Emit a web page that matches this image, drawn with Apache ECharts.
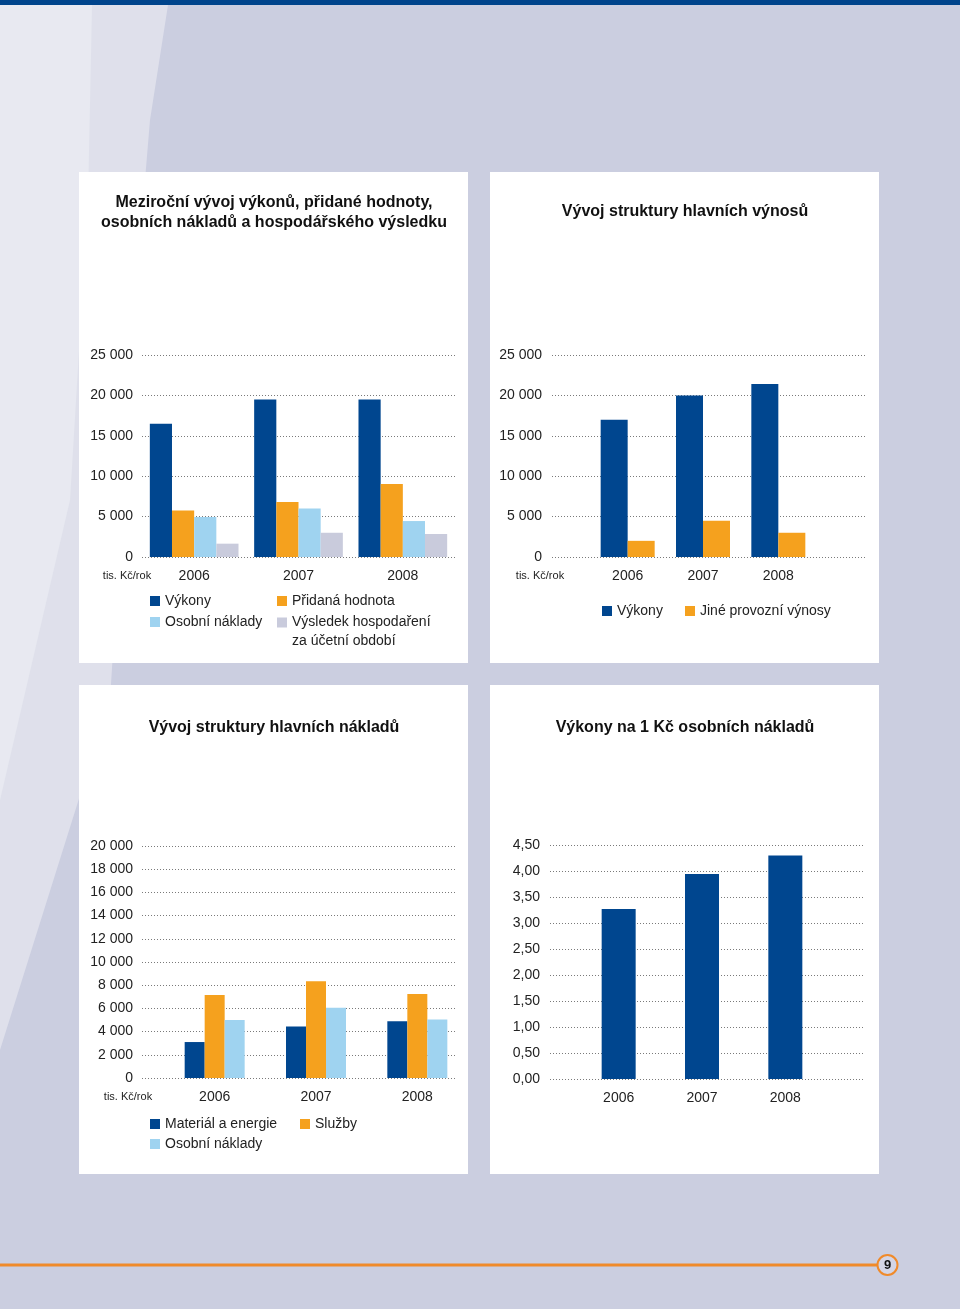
<!DOCTYPE html>
<html>
<head>
<meta charset="utf-8">
<script src="https://cdn.jsdelivr.net/npm/echarts@6/dist/echarts.min.js"></script>
<style>
html,body{margin:0;padding:0;background:#cbcee0;}
#c{width:960px;height:1309px;}
</style>
</head>
<body>
<div id="c"></div>
<script>
// ---- data ----
var years = ['2006', '2007', '2008'];
// Chart 1: Meziroční vývoj ...
var vykony1 = [16500, 19500, 19500];
var pridanaHodnota = [5750, 6800, 9050];
var osobniNaklady1 = [4950, 6000, 4450];
var vysledekHosp = [1650, 3000, 2850];
var ticks1 = [0, 25000, 5000];
// Chart 2: Vývoj struktury hlavních výnosů
var vykony2 = [17000, 20000, 21400];
var jineVynosy = [2000, 4500, 3000];
var ticks2 = [0, 25000, 5000];
// Chart 3: Vývoj struktury hlavních nákladů
var materialEnergie = [3100, 4450, 4900];
var sluzby = [7150, 8350, 7250];
var osobniNaklady3 = [5000, 6050, 5050];
var ticks3 = [0, 20000, 2000];
// Chart 4: Výkony na 1 Kč osobních nákladů
var vykonyNa1Kc = [3.27, 3.94, 4.30];
var ticks4 = [0, 4.5, 0.5];

var C_BLUE = '#00468f', C_ORANGE = '#f5a11e', C_LBLUE = '#9fd3f0', C_GREY = '#c9cbdc';
var FONT = '"Liberation Sans", Arial, Helvetica, sans-serif';
var TXT = '#222222';

function thou(v){ return String(v).replace(/\B(?=(\d{3})+(?!\d))/g, ' '); }
function dec(v){ return v.toFixed(2).replace('.', ','); }

var chart = echarts.init(document.getElementById('c'), null, {renderer:'canvas', width:960, height:1309});

var splitStyle = {show:true, lineStyle:{type:[1,2], color:'#7a7a7a', width:1}};

function gridYAxis(gi, t, fmt, margin){
  return {type:'value', gridIndex:gi, min:t[0], max:t[1], interval:t[2],
    axisLine:{show:false}, axisTick:{show:false},
    axisLabel:{show:true, formatter:fmt, margin:margin, fontSize:14, color:TXT, fontFamily:FONT},
    splitLine:splitStyle};
}
function hiddenYAxis(gi, t){
  return {type:'value', gridIndex:gi, min:t[0], max:t[1], interval:t[2], show:false, splitLine:{show:false}};
}
function catAxis(gi, showLabels){
  return {type:'category', gridIndex:gi, data:years, show:showLabels,
    axisLine:{show:false}, axisTick:{show:false},
    axisLabel:{margin:12, fontSize:14, color:TXT, fontFamily:FONT}};
}

var grids = [
  {left:142, top:355, width:313, height:202},   // 0 chart1
  {left:552, top:355, width:313, height:202},   // 1 chart2 gridlines
  {left:590, top:355, width:226, height:202},   // 2 chart2 bars
  {left:142, top:846, width:313, height:232},   // 3 chart3 gridlines
  {left:164, top:846, width:304, height:232},   // 4 chart3 bars
  {left:550, top:845, width:314, height:234},   // 5 chart4 gridlines
  {left:577, top:845, width:250, height:234}    // 6 chart4 bars
];

var xAxes = [catAxis(0,true), catAxis(1,false), catAxis(2,true), catAxis(3,false), catAxis(4,true), catAxis(5,false), catAxis(6,true)];
var yAxes = [gridYAxis(0,ticks1,thou,9), gridYAxis(1,ticks2,thou,10), hiddenYAxis(2,ticks2),
             gridYAxis(3,ticks3,thou,9), hiddenYAxis(4,ticks3), gridYAxis(5,ticks4,dec,10), hiddenYAxis(6,ticks4)];

function bar(name, data, color, ai, extra){
  var s = {type:'bar', name:name, data:data, xAxisIndex:ai, yAxisIndex:ai, itemStyle:{color:color}, barGap:0, silent:true};
  for (var k in extra) s[k] = extra[k];
  return s;
}

var series = [
  bar('Výkony', vykony1, C_BLUE, 0, {barCategoryGap:'15%'}),
  bar('Přidaná hodnota', pridanaHodnota, C_ORANGE, 0, {barCategoryGap:'15%'}),
  bar('Osobní náklady', osobniNaklady1, C_LBLUE, 0, {barCategoryGap:'15%'}),
  bar('Výsledek hospodaření za účetní období', vysledekHosp, C_GREY, 0, {barCategoryGap:'15%'}),
  bar('Výkony', vykony2, C_BLUE, 2, {barWidth:27}),
  bar('Jiné provozní výnosy', jineVynosy, C_ORANGE, 2, {barWidth:27}),
  bar('Materiál a energie', materialEnergie, C_BLUE, 4, {barWidth:20}),
  bar('Služby', sluzby, C_ORANGE, 4, {barWidth:20}),
  bar('Osobní náklady', osobniNaklady3, C_LBLUE, 4, {barWidth:20}),
  bar('Výkony na 1 Kč osobních nákladů', vykonyNa1Kc, C_BLUE, 6, {barWidth:34})
];

function leg(name, left, yc, extra){
  var l = {data:[name], left:left, top:yc-7, orient:'horizontal', icon:'rect', itemWidth:10, itemHeight:10,
    padding:0, selectedMode:false, textStyle:{fontSize:14, color:TXT, fontFamily:FONT}};
  for (var k in extra) l[k] = extra[k];
  return l;
}
var legends = [
  leg('Výkony', 150, 601),
  leg('Přidaná hodnota', 277, 601),
  leg('Osobní náklady', 150, 622),
  {data:['Výsledek hospodaření za účetní období'], left:277, top:594, icon:'rect', itemWidth:10, itemHeight:10,
    padding:0, selectedMode:false,
    formatter:function(n){ return ' \n' + n.replace(' za ', '\nza '); },
    textStyle:{fontSize:14, color:TXT, fontFamily:FONT, lineHeight:19}},
  leg('Výkony', 602, 611),
  leg('Jiné provozní výnosy', 685, 611),
  leg('Materiál a energie', 150, 1124),
  leg('Služby', 300, 1124),
  leg('Osobní náklady', 150, 1144)
];

function txt(x, y, s, size, weight, color, align){
  return {type:'text', x:x, y:y, silent:true, z:10,
    style:{text:s, fontSize:size, fontWeight:weight||'normal', fill:color||TXT, fontFamily:FONT,
      textAlign:align||'center', textVerticalAlign:'middle', lineHeight:20}};
}

var graphics = [
  // background swooshes
  {type:'polygon', z:-10, silent:true, shape:{points:[[0,5],[168,5],[150,120],[135,300],[110,700],[0,1050]]}, style:{fill:'#dfe0eb'}},
  {type:'polygon', z:-9, silent:true, shape:{points:[[0,5],[92,5],[88,200],[70,500],[0,800]]}, style:{fill:'#e8e9f1'}},
  // top bar
  {type:'rect', z:-5, silent:true, shape:{x:0, y:0, width:960, height:5}, style:{fill:'#00448c'}},
  // panels
  {type:'rect', z:-5, silent:true, shape:{x:79, y:172, width:389, height:491}, style:{fill:'#ffffff'}},
  {type:'rect', z:-5, silent:true, shape:{x:490, y:172, width:389, height:491}, style:{fill:'#ffffff'}},
  {type:'rect', z:-5, silent:true, shape:{x:79, y:685, width:389, height:489}, style:{fill:'#ffffff'}},
  {type:'rect', z:-5, silent:true, shape:{x:490, y:685, width:389, height:489}, style:{fill:'#ffffff'}},
  // titles
  txt(274, 213, 'Meziroční vývoj výkonů, přidané hodnoty,\nosobních nákladů a hospodářského výsledku', 16, 'bold', '#111'),
  txt(685, 212, 'Vývoj struktury hlavních výnosů', 16, 'bold', '#111'),
  txt(274, 728, 'Vývoj struktury hlavních nákladů', 16, 'bold', '#111'),
  txt(685, 728, 'Výkony na 1 Kč osobních nákladů', 16, 'bold', '#111'),
  // units
  txt(127, 576, 'tis. Kč/rok', 11, 'normal', TXT),
  txt(540, 576, 'tis. Kč/rok', 11, 'normal', TXT),
  txt(128, 1097, 'tis. Kč/rok', 11, 'normal', TXT),
  // bottom line & page number
  {type:'rect', z:-5, silent:true, shape:{x:0, y:1263.5, width:877, height:3}, style:{fill:'#f08a2a'}},
  {type:'circle', z:-4, silent:true, shape:{cx:887.5, cy:1265, r:10}, style:{fill:'#d4d5e5', stroke:'#f08a2a', lineWidth:2}},
  txt(887.5, 1265.5, '9', 13, 'bold', '#111')
];

chart.setOption({
  backgroundColor:'#cbcee0',
  animation:false,
  textStyle:{fontFamily:FONT},
  grid:grids, xAxis:xAxes, yAxis:yAxes, series:series, legend:legends, graphic:graphics
});
</script>
</body>
</html>
